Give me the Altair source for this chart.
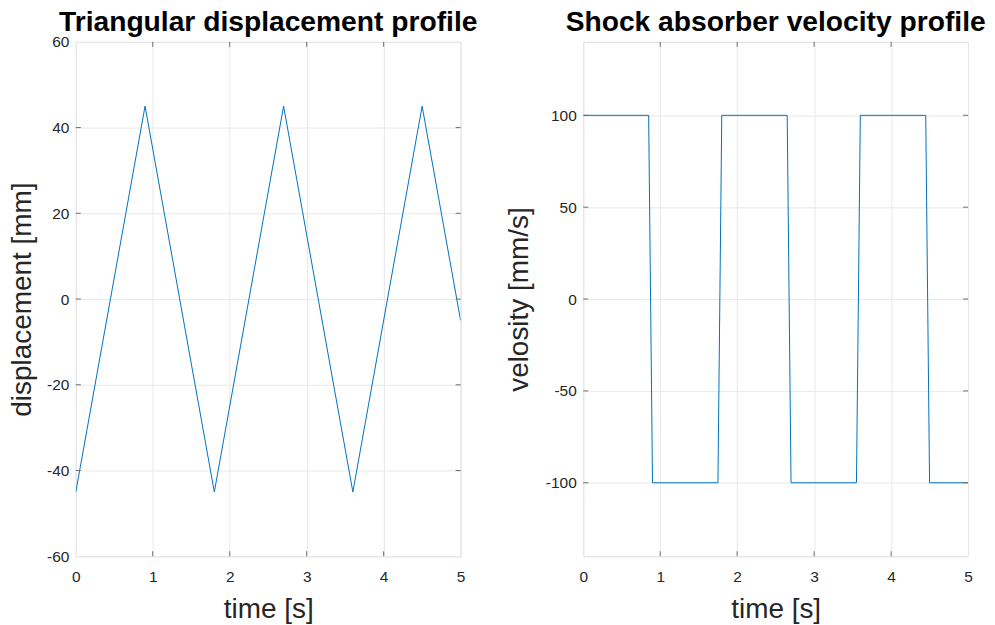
import altair as alt
import pandas as pd

# Displacement profile (triangular)
disp_t = [0, 0.9, 1.8, 2.7, 3.6, 4.5, 5.0]
disp_mm = [-45, 45, -45, 45, -45, 45, -5]

# Velocity profile (square)
vel_t = [0, 0.85, 0.9, 1.75, 1.8, 2.65, 2.7, 3.55, 3.6, 4.45, 4.5, 5.0]
vel_mms = [100, 100, -100, -100, 100, 100, -100, -100, 100, 100, -100, -100]

x_ticks = [0, 1, 2, 3, 4, 5]
disp_ticks = [-60, -40, -20, 0, 20, 40, 60]
vel_ticks = [-100, -50, 0, 50, 100]

titles = ["Triangular displacement profile", "Shock absorber velocity profile"]
y_titles = ["displacement [mm]", "velosity [mm/s]"]
x_title = "time [s]"

W, H = 386, 516
LINE = "#0072BD"
AX = "#262626"
BOX = "#6e6e6e"
FONT = "Liberation Sans"


def panel(t, v, ydom, yticks, ytitle, title, tpad):
    df = pd.DataFrame({"t": t, "v": v})
    xs = alt.Scale(domain=[0, 5], nice=False)
    ys = alt.Scale(domain=ydom, nice=False)
    xax = alt.Axis(values=x_ticks, grid=True, gridColor="#e8e8e8", domain=False,
                   ticks=False, labelFontSize=15.5, labelColor=AX, labelFont=FONT,
                   labelPadding=13, labelFlush=False, title=x_title,
                   titleFontSize=28, titleFont=FONT, titleColor=AX,
                   titleFontWeight="normal", titlePadding=11,
                   labelExpr="toString(datum.value)")
    yax = alt.Axis(values=yticks, grid=True, gridColor="#e8e8e8", domain=False,
                   ticks=False, labelFontSize=15.5, labelColor=AX, labelFont=FONT,
                   labelPadding=7, labelFlush=False, title=ytitle,
                   titleFontSize=28, titleFont=FONT, titleColor=AX,
                   titleFontWeight="normal", titlePadding=tpad,
                   labelExpr="toString(datum.value)")
    line = alt.Chart(df).mark_line(color=LINE, strokeWidth=1, clip=True).encode(
        x=alt.X("t:Q", scale=xs, axis=xax),
        y=alt.Y("v:Q", scale=ys, axis=yax),
    )
    xt = pd.DataFrame({"t": x_ticks[1:-1]})
    yt = pd.DataFrame({"v": [y for y in yticks if ydom[0] < y < ydom[1]]})
    tb = alt.Chart(xt).mark_rule(color=BOX, strokeWidth=1).encode(
        x=alt.X("t:Q", scale=xs), y=alt.value(0), y2=alt.value(5))
    tbb = alt.Chart(xt).mark_rule(color=BOX, strokeWidth=1).encode(
        x=alt.X("t:Q", scale=xs), y=alt.value(H - 5), y2=alt.value(H))
    tl = alt.Chart(yt).mark_rule(color=BOX, strokeWidth=1).encode(
        y=alt.Y("v:Q", scale=ys), x=alt.value(0), x2=alt.value(5))
    tr = alt.Chart(yt).mark_rule(color=BOX, strokeWidth=1).encode(
        y=alt.Y("v:Q", scale=ys), x=alt.value(W - 5), x2=alt.value(W))
    ttl = alt.Chart(pd.DataFrame({"label": [title]})).mark_text(
        font=FONT, fontSize=28.3, fontWeight="bold", color="#000000",
        align="center", baseline="alphabetic",
    ).encode(text="label:N", x=alt.value(W / 2), y=alt.value(-11))
    return alt.layer(line, tb, tbb, tl, tr, ttl).properties(width=W, height=H)


left = panel(disp_t, disp_mm, [-60, 60], disp_ticks, y_titles[0], titles[0], 10)
right = panel(vel_t, vel_mms, [-140, 140], vel_ticks, y_titles[1], titles[1], 12)

chart = alt.hconcat(left, right, spacing=123, bounds="flush").properties(
    padding={"left": 0, "top": -2, "right": 0, "bottom": 0}
).configure_view(stroke=BOX, strokeWidth=1).configure(background="white")

chart.save("out.html", embed_options={"renderer": "svg", "actions": False})
